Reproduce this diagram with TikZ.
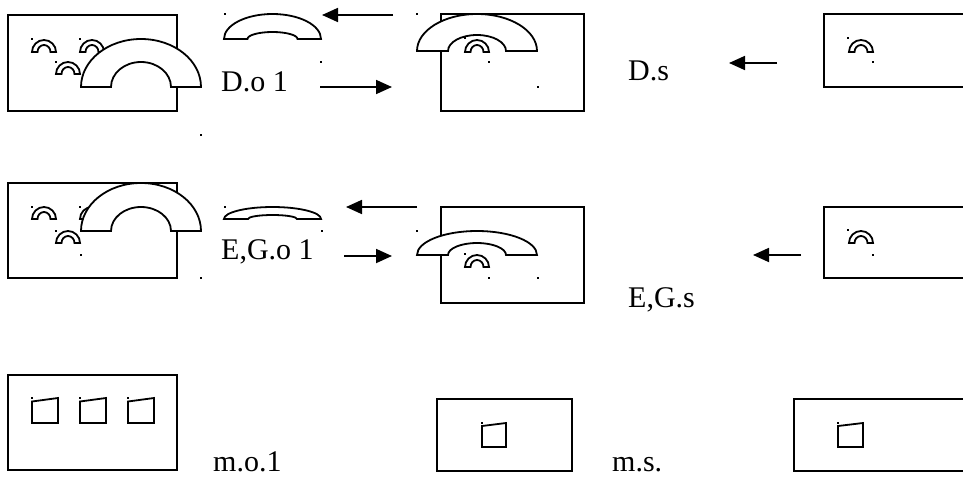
\documentclass[tikz,border=0pt]{standalone}
\usepackage{fontspec}
\setmainfont{Liberation Serif}
\usetikzlibrary{arrows.meta}
\tikzset{
  boxline/.style={line width=2.2pt},
  arcline/.style={line width=1.8pt, fill=white, line join=miter},
  iconline/.style={line width=1.8pt},
  arr/.style={line width=1.8pt, -{Triangle[length=16pt,width=14pt]}},
  lbl/.style={anchor=base west, inner sep=0pt, font=\fontsize{30}{36}\selectfont},
}
% cx, bottom y, outer half-width, outer height, inner half-width, inner height
\newcommand{\mkarc}[6]{\draw[arcline] ({#1-#3},#2) arc[start angle=180,end angle=0,x radius=#3pt,y radius=#4pt] -- ({#1+#5},#2) arc[start angle=0,end angle=180,x radius=#5pt,y radius=#6pt] -- cycle;}
\newcommand{\speckat}[2]{\fill ({#1-0.9},{#2-0.9}) rectangle ({#1+0.9},{#2+0.9});}
% left x, top-left y, top-right y, width, bottom y
\newcommand{\mkicon}[5]{\draw[iconline] (#1,#2) -- (#1,#5) -- ({#1+#4},#5) -- ({#1+#4},#3) -- cycle;}
\begin{document}
\begin{tikzpicture}[x=1pt,y=-1pt]
\useasboundingbox (0,0) rectangle (963,479);

% ---------- row 1 ----------
\draw[boxline] (8,15) rectangle (177,111);
\mkarc{44}{52}{12}{12}{6.5}{7}
\mkarc{92}{52}{12}{12}{6.5}{7}
\mkarc{68}{74}{12}{12}{6.5}{7}
\speckat{32}{39}\speckat{80}{39}\speckat{56}{62}
\mkarc{141}{87}{60}{48}{30}{25}
\speckat{201}{135}

\mkarc{272.5}{39}{48.5}{25}{25}{7}
\speckat{225}{14}\speckat{321}{62}\speckat{417}{14}

\draw[boxline] (441,14) rectangle (584,111);
\mkarc{477}{51}{60}{37}{29}{16}
\mkarc{477}{52}{12}{12}{6.5}{7}
\speckat{465}{38}\speckat{489}{62}\speckat{538}{87}

\draw[boxline] (963,14) -- (824,14) -- (824,87) -- (963,87);
\mkarc{861}{52}{12}{12}{6.5}{7}
\speckat{848}{38}\speckat{873}{62}

\node[lbl] (do1) at (221,91) {D.o 1};
\node[lbl] (ds) at (628,80) {D.s};

\coordinate (a1s) at (393,15); \coordinate (a1e) at (322,15);
\coordinate (a2s) at (320,87); \coordinate (a2e) at (392,87);
\coordinate (a3s) at (777,63); \coordinate (a3e) at (729,63);
\draw[arr] (a1s) -- (a1e);
\draw[arr] (a2s) -- (a2e);
\draw[arr] (a3s) -- (a3e);

% ---------- row 2 ----------
\draw[boxline] (8,183) rectangle (177,278);
\mkarc{44}{219}{12}{12}{6.5}{7}
\mkarc{92}{219}{12}{12}{6.5}{7}
\mkarc{68}{243}{12}{12}{6.5}{7}
\speckat{32}{207}\speckat{80}{207}\speckat{56}{231}\speckat{81}{255}
\mkarc{141}{231}{60}{48}{30}{24}
\speckat{201}{278}

\mkarc{272.5}{219}{48.5}{12}{24.5}{4}
\speckat{225}{207}\speckat{322}{231}\speckat{417}{231}

\draw[boxline] (441,207) rectangle (584,303);
\mkarc{477}{255}{60}{24}{29}{12}
\mkarc{477}{267}{12}{12}{6.5}{7}
\speckat{465}{254}\speckat{489}{278}\speckat{538}{278}

\draw[boxline] (963,207) -- (824,207) -- (824,278) -- (963,278);
\mkarc{861}{243}{12}{12}{6.5}{7}
\speckat{848}{230}\speckat{873}{255}

\node[lbl] (ego1) at (221,259) {E,G.o 1};
\node[lbl] (egs) at (628,307) {E,G.s};

\coordinate (b1s) at (417,207); \coordinate (b1e) at (346,207);
\coordinate (b2s) at (344,256); \coordinate (b2e) at (392,256);
\coordinate (b3s) at (801,255); \coordinate (b3e) at (753,255);
\draw[arr] (b1s) -- (b1e);
\draw[arr] (b2s) -- (b2e);
\draw[arr] (b3s) -- (b3e);

% ---------- row 3 ----------
\draw[boxline] (8,375) rectangle (177,470);
\mkicon{32}{401.5}{398}{26}{423}
\mkicon{80}{401.5}{398}{26}{423}
\mkicon{128}{401.5}{398}{26}{423}
\speckat{32}{398}\speckat{80}{398}\speckat{128}{398}

\draw[boxline] (437,399) rectangle (572,471);
\mkicon{482}{426}{423}{24}{447}
\speckat{482}{423}

\draw[boxline] (963,399) -- (794,399) -- (794,471) -- (963,471);
\mkicon{838}{426}{423}{25}{447}
\speckat{838}{423}

\node[lbl] (mo1) at (213,471) {m.o.1};
\node[lbl] (ms) at (612,471) {m.s.};
\end{tikzpicture}
\end{document}
